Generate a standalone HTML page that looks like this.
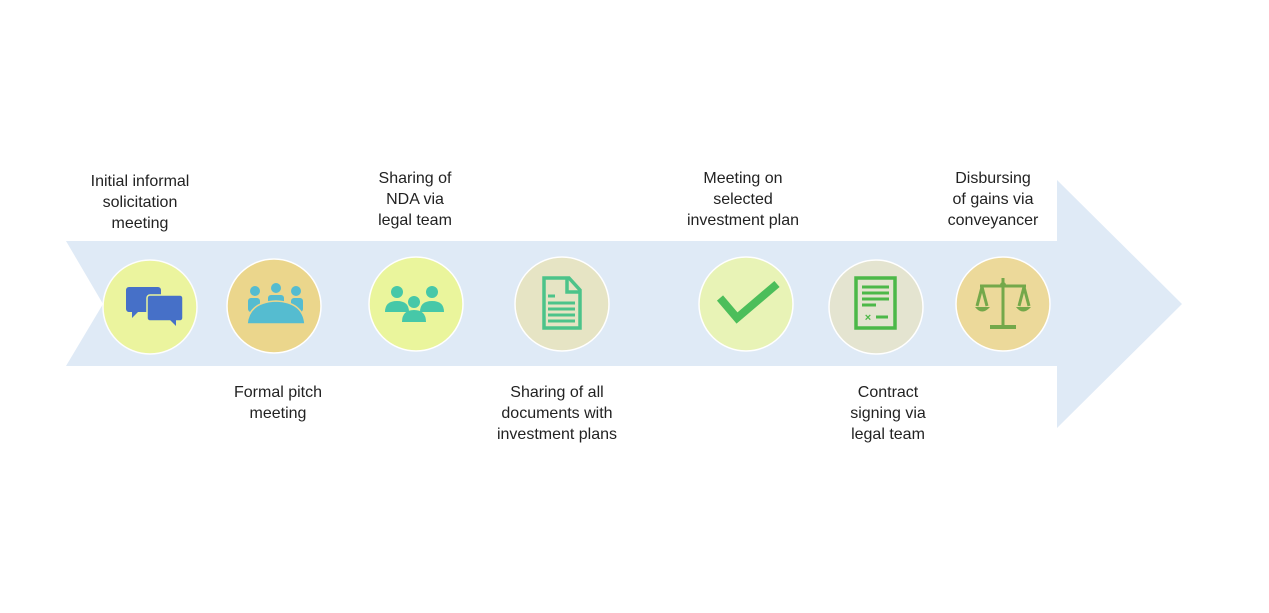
<!DOCTYPE html>
<html><head><style>
html,body{margin:0;padding:0;background:#fff;}
text{font-family:"Liberation Sans",sans-serif;font-size:16px;fill:#222;text-anchor:middle;}
</style></head><body>
<svg width="1269" height="608" viewBox="0 0 1269 608" xmlns="http://www.w3.org/2000/svg">
<polygon points="66,241 1057,241 1057,180 1182,304 1057,428 1057,366 66,366 103,304" fill="#dfeaf6"/>
<g stroke="#fff" stroke-width="1.5">
<circle cx="150" cy="307" r="47" fill="#ecf59a" opacity="0.95"/>
<circle cx="274" cy="306" r="47" fill="#ebd68c"/>
<circle cx="416" cy="304" r="47" fill="#eaf59c"/>
<circle cx="562" cy="304" r="47" fill="#e6e4c4"/>
<circle cx="746" cy="304" r="47" fill="#e8f3b6"/>
<circle cx="876" cy="307" r="47" fill="#e4e4d0"/>
<circle cx="1003" cy="304" r="47" fill="#ecd99a"/>
</g>
<g fill="#4670c8">
<rect x="126" y="287" width="35" height="25" rx="3"/><polygon points="132,311 132,318 139,311"/>
<rect x="147" y="295" width="36" height="26" rx="3" stroke="#ecf59a" stroke-width="1.5"/><polygon points="170,320 176,326 176,320"/>
</g>
<g fill="#55bcd0">
<circle cx="255" cy="291" r="5"/><circle cx="276" cy="288" r="5"/><circle cx="296" cy="291" r="5"/>
<rect x="248" y="298" width="12" height="14" rx="3"/><rect x="268" y="295" width="16" height="10" rx="3"/><rect x="291" y="298" width="12" height="14" rx="3"/>
<path d="M247 324 Q249 302 276 301 Q303 302 305 324 Z" stroke="#ebd68c" stroke-width="1.5"/>
</g>
<g fill="#46c8a8">
<circle cx="397" cy="292" r="6"/><circle cx="432" cy="292" r="6"/><circle cx="414" cy="302" r="6"/>
<path d="M385 312 Q385 301 397 301 Q409 301 409 312 Z"/><path d="M420 312 Q420 301 432 301 Q444 301 444 312 Z"/>
<path d="M402 322 Q402 310 414 310 Q426 310 426 322 Z"/>
</g>
<g fill="none" stroke="#4cc38a" stroke-width="3.5">
<path d="M544 278 L569 278 L580 290 L580 328 L544 328 Z"/>
<path d="M567 279 L567 292 L579 292"/>
</g>
<g stroke="#4cc38a" stroke-width="3"><line x1="548" y1="296" x2="555" y2="296"/><line x1="548" y1="303" x2="575" y2="303"/><line x1="548" y1="309" x2="575" y2="309"/><line x1="548" y1="315" x2="575" y2="315"/><line x1="548" y1="321" x2="575" y2="321"/></g>
<polyline points="720,298 737,318 777,284" fill="none" stroke="#4cbe5a" stroke-width="8"/>
<rect x="856" y="278" width="39" height="50" fill="none" stroke="#4cb848" stroke-width="3.5"/>
<g stroke="#4cb848" stroke-width="3"><line x1="862" y1="287" x2="889" y2="287"/><line x1="862" y1="293" x2="889" y2="293"/><line x1="862" y1="299" x2="889" y2="299"/><line x1="862" y1="305" x2="876" y2="305"/><line x1="876" y1="317" x2="888" y2="317"/></g>
<text x="868" y="321" style="font-size:11px;fill:#4cb848;font-weight:bold">×</text>
<g stroke="#74a84a" stroke-width="3" fill="none">
<line x1="1003" y1="278" x2="1003" y2="326"/><line x1="980" y1="286" x2="1026" y2="286"/>
<line x1="982" y1="287" x2="977" y2="306"/><line x1="982" y1="287" x2="987" y2="306"/>
<line x1="1024" y1="287" x2="1019" y2="306"/><line x1="1024" y1="287" x2="1029" y2="306"/>
<line x1="990" y1="327" x2="1016" y2="327" stroke-width="4"/>
</g>
<g fill="#74a84a"><path d="M975 307 L990 307 Q982 316 975 307Z"/><path d="M1016 307 L1031 307 Q1023 316 1016 307Z"/><circle cx="1003" cy="285" r="3"/></g>
<text x="140" y="186">Initial informal</text><text x="140" y="207">solicitation</text><text x="140" y="228">meeting</text>
<text x="415" y="183">Sharing of</text><text x="415" y="204">NDA via</text><text x="415" y="225">legal team</text>
<text x="743" y="183">Meeting on</text><text x="743" y="204">selected</text><text x="743" y="225">investment plan</text>
<text x="993" y="183">Disbursing</text><text x="993" y="204">of gains via</text><text x="993" y="225">conveyancer</text>
<text x="278" y="397">Formal pitch</text><text x="278" y="418">meeting</text>
<text x="557" y="397">Sharing of all</text><text x="557" y="418">documents with</text><text x="557" y="439">investment plans</text>
<text x="888" y="397">Contract</text><text x="888" y="418">signing via</text><text x="888" y="439">legal team</text>
</svg>
</body></html>
